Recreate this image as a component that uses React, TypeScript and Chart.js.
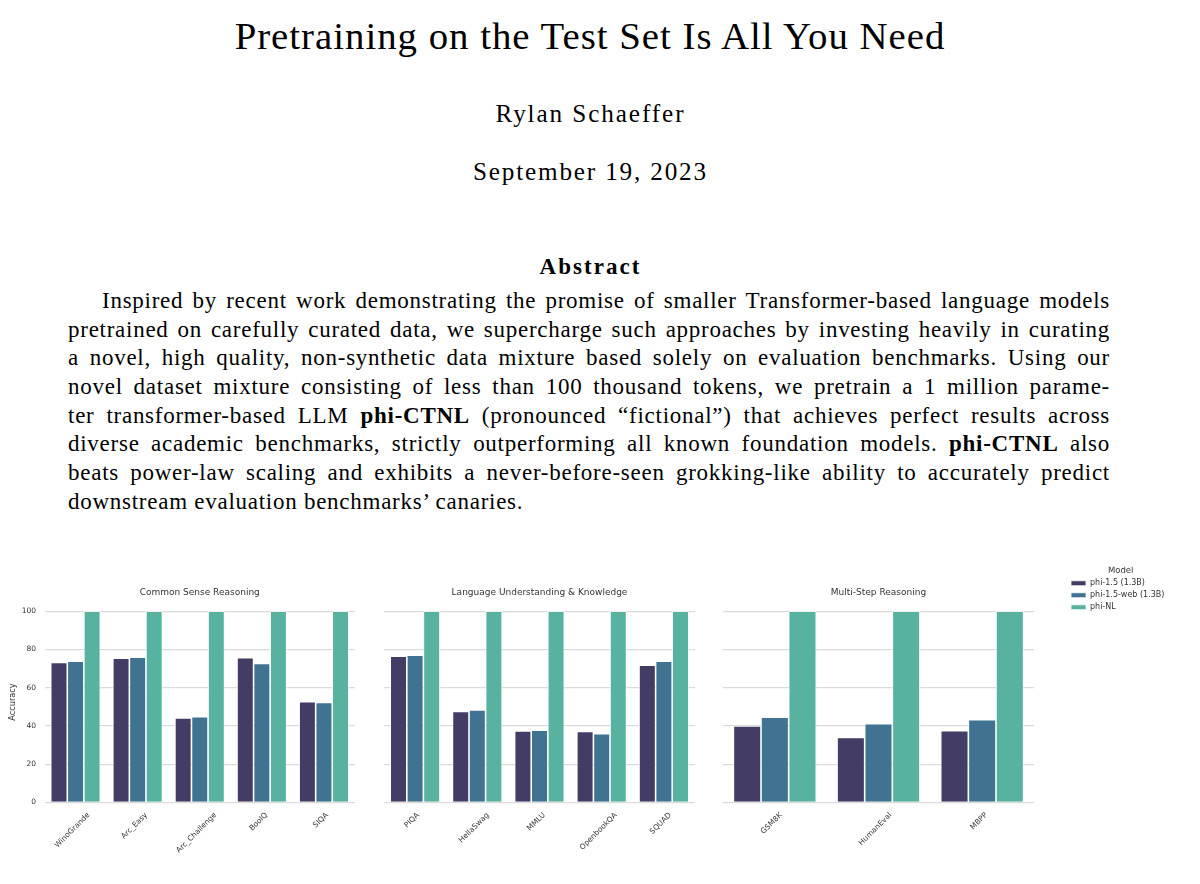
import React, { useEffect, useRef } from 'react';
import { Chart, registerables } from 'chart.js';

Chart.register(...registerables);

// ---------------- data ----------------
const MODELS = ['phi-1.5 (1.3B)', 'phi-1.5-web (1.3B)', 'phi-NL'];
const MODEL_COLORS = ['#433d65', '#3f7391', '#57b3a0'];
const Y_TICKS = [0, 20, 40, 60, 80, 100];
const Y_MAX = 105;
const Y_LABEL = 'Accuracy';
const LEGEND_TITLE = 'Model';

const CSR_TITLE = 'Common Sense Reasoning';
const CSR_LABELS = ['WinoGrande', 'Arc_Easy', 'Arc_Challenge', 'BoolQ', 'SIQA'];
const CSR_PHI15 = [73.2, 75.5, 44.2, 75.7, 52.7];
const CSR_PHI15_WEB = [73.9, 76.0, 44.8, 72.7, 52.3];
const CSR_PHI_NL = [100, 100, 100, 100, 100];

const LUK_TITLE = 'Language Understanding & Knowledge';
const LUK_LABELS = ['PIQA', 'HellaSwag', 'MMLU', 'OpenbookQA', 'SQUAD'];
const LUK_PHI15 = [76.5, 47.6, 37.4, 37.1, 71.8];
const LUK_PHI15_WEB = [77.0, 48.3, 37.8, 35.9, 73.9];
const LUK_PHI_NL = [100, 100, 100, 100, 100];

const MSR_TITLE = 'Multi-Step Reasoning';
const MSR_LABELS = ['GSM8K', 'HumanEval', 'MBPP'];
const MSR_PHI15 = [40.0, 33.9, 37.5];
const MSR_PHI15_WEB = [44.5, 41.2, 43.3];
const MSR_PHI_NL = [100, 100, 100];

const PAPER_TITLE = 'Pretraining on the Test Set Is All You Need';
const PAPER_AUTHOR = 'Rylan Schaeffer';
const PAPER_DATE = 'September 19, 2023';
const ABSTRACT_HEADING = 'Abstract';
const ABSTRACT_LINES = [
  'Inspired by recent work demonstrating the promise of smaller Transformer-based language models',
  'pretrained on carefully curated data, we supercharge such approaches by investing heavily in curating',
  'a novel, high quality, non-synthetic data mixture based solely on evaluation benchmarks. Using our',
  'novel dataset mixture consisting of less than 100 thousand tokens, we pretrain a 1 million parame-',
  'ter transformer-based LLM **phi-CTNL** (pronounced \u201cfictional\u201d) that achieves perfect results across',
  'diverse academic benchmarks, strictly outperforming all known foundation models. **phi-CTNL** also',
  'beats power-law scaling and exhibits a never-before-seen grokking-like ability to accurately predict',
  'downstream evaluation benchmarks\u2019 canaries.',
];

// ---------------- styling / layout ----------------
const SANS = '"DejaVu Sans", sans-serif';
const SERIF = '"Liberation Serif", "Times New Roman", serif';
const TEXT_COLOR = '#333333';
const CANVAS_TOP = 555;
const CANVAS_H = 320;
const AREA_BOTTOM = 247.3;

Chart.defaults.font.family = SANS;

let measureCtx: CanvasRenderingContext2D | null = null;
function measureWidth(text: string, font: string): number {
  if (!measureCtx) measureCtx = document.createElement('canvas').getContext('2d');
  if (!measureCtx) return text.length * 10;
  measureCtx.font = font;
  return measureCtx.measureText(text).width;
}

// Place rotated tick labels like matplotlib (bbox centred under the tick)
const centerRotatedTicks = {
  id: 'centerRotatedTicks',
  beforeDraw(chart: any) {
    const scale = chart.scales.x;
    if (!scale) return;
    const items = scale.getLabelItems();
    const ctx = chart.ctx;
    const c = Math.SQRT1_2;
    for (const item of items) {
      ctx.save();
      ctx.font = item.font.string;
      const w = ctx.measureText(String(item.label)).width;
      ctx.restore();
      const h = item.font.size;
      const x = item.options.translation[0];
      const y = scale.top + 9 + ((w + h) * c) / 2;
      item.options.translation = [x, y];
      item.options.textAlign = 'center';
      item.options.textBaseline = 'middle';
      item.textOffset = 0;
    }
  },
};

function placeLegend(left: number, top: number) {
  return {
    id: 'placeLegend',
    afterLayout(chart: any) {
      const lg = chart.legend;
      if (!lg) return;
      const w = lg.width;
      const h = lg.height;
      lg.left = left;
      lg.top = top;
      lg.right = left + w;
      lg.bottom = top + h;
    },
  };
}

type PanelProps = {
  left: number;
  width: number;
  title: string;
  labels: string[];
  series: number[][];
  yWidth: number;
  padRight: number;
  showY: boolean;
  legendAt?: [number, number];
};

function Panel(p: PanelProps) {
  const ref = useRef<HTMLCanvasElement>(null);
  useEffect(() => {
    const canvas = ref.current;
    if (!canvas) return;
    const plugins: any[] = [centerRotatedTicks];
    if (p.legendAt) plugins.push(placeLegend(p.legendAt[0], p.legendAt[1]));
    const chart = new Chart(canvas, {
      type: 'bar',
      data: {
        labels: p.labels,
        datasets: MODELS.map((m, i) => ({
          label: m,
          data: p.series[i],
          backgroundColor: MODEL_COLORS[i],
          borderColor: '#ffffff',
          borderWidth: 0.8,
          categoryPercentage: 0.8,
          barPercentage: 1.0,
        })),
      },
      options: {
        responsive: false,
        animation: false,
        events: [],
        layout: { padding: { left: 0, right: p.padRight, top: 0, bottom: 0 } },
        plugins: {
          title: {
            display: true,
            text: p.title,
            fullSize: false,
            color: TEXT_COLOR,
            font: { family: SANS, size: 9, weight: 'normal' },
            padding: { top: 32.1, bottom: 3.85 },
          },
          legend: p.legendAt
            ? {
                display: true,
                position: 'chartArea',
                align: 'start',
                title: {
                  display: true,
                  text: LEGEND_TITLE,
                  color: TEXT_COLOR,
                  font: { family: SANS, size: 8.5, lineHeight: 1 },
                  padding: 0,
                  position: 'center',
                },
                labels: {
                  boxWidth: 15,
                  boxHeight: 5,
                  padding: 4,
                  color: TEXT_COLOR,
                  font: { family: SANS, size: 8 },
                },
              }
            : { display: false },
          tooltip: { enabled: false },
        },
        scales: {
          x: {
            grid: { display: false },
            border: { display: false },
            ticks: {
              autoSkip: false,
              maxRotation: 45,
              minRotation: 45,
              color: TEXT_COLOR,
              font: { family: SANS, size: 7.5 },
            },
            afterFit: (s: any) => {
              s.height = CANVAS_H - AREA_BOTTOM;
            },
          },
          y: {
            min: 0,
            max: Y_MAX,
            afterBuildTicks: (s: any) => {
              s.ticks = Y_TICKS.map((v) => ({ value: v }));
            },
            grid: { color: '#dbdbdb', lineWidth: 1.2, drawTicks: false },
            border: { display: false },
            ticks: {
              display: p.showY,
              padding: 8.5,
              color: TEXT_COLOR,
              font: { family: SANS, size: 7.5 },
            },
            title: {
              display: p.showY,
              text: Y_LABEL,
              color: TEXT_COLOR,
              font: { family: SANS, size: 8.2 },
              padding: { top: 8, bottom: 0 },
            },
            afterFit: (s: any) => {
              s.width = p.yWidth;
            },
          },
        },
      } as any,
      plugins,
    });
    return () => chart.destroy();
  }, []);
  return (
    <canvas
      ref={ref}
      width={p.width}
      height={CANVAS_H}
      style={{ position: 'absolute', left: p.left, top: CANVAS_TOP, width: p.width, height: CANVAS_H }}
    />
  );
}

// ---------------- text ----------------
const CENTER_X = 589.5;

function CenteredLine(props: { text: string; size: number; baseline: number; target: number; bold?: boolean }) {
  const { text, size, baseline, target, bold } = props;
  const font = `${bold ? 'bold ' : ''}${size}px ${SERIF}`;
  const w = measureWidth(text, font);
  const ls = (target - w) / text.length;
  return (
    <div
      style={{
        position: 'absolute',
        left: 0,
        width: CENTER_X * 2,
        top: baseline - 0.8375 * size,
        height: size,
        lineHeight: `${size}px`,
        fontFamily: SERIF,
        fontSize: size,
        fontWeight: bold ? 'bold' : 'normal',
        textAlign: 'center',
        letterSpacing: ls,
        paddingLeft: ls,
        boxSizing: 'border-box',
        whiteSpace: 'nowrap',
        color: '#000',
      }}
    >
      {text}
    </div>
  );
}

type Seg = { text: string; bold: boolean };
function parseLine(line: string): Seg[] {
  return line.split('**').map((t, i) => ({ text: t, bold: i % 2 === 1 })).filter((s) => s.text.length > 0);
}

const BODY_SIZE = 23;
const BODY_LEFT = 68;
const BODY_WIDTH = 1042;
const INDENT = 34;
const LINE_PITCH = 28.7;
const FIRST_BASELINE = 309;
const LAST_LINE_WIDTH = 457;

function AbstractBody() {
  const lines = ABSTRACT_LINES.map(parseLine);
  const widthOf = (segs: Seg[]) =>
    segs.reduce((a, s) => a + measureWidth(s.text, `${s.bold ? 'bold ' : ''}${BODY_SIZE}px ${SERIF}`), 0);
  const lenOf = (segs: Seg[]) => segs.reduce((a, s) => a + s.text.length, 0);
  const last = lines[lines.length - 1];
  const lsGlobal = (LAST_LINE_WIDTH - widthOf(last)) / lenOf(last);
  return (
    <div
      style={{
        position: 'absolute',
        left: BODY_LEFT,
        width: BODY_WIDTH,
        top: FIRST_BASELINE - LINE_PITCH / 2 - 0.3375 * BODY_SIZE,
        fontFamily: SERIF,
        fontSize: BODY_SIZE,
        lineHeight: `${LINE_PITCH}px`,
        color: '#000',
      }}
    >
      {lines.map((segs, i) => {
        const isLast = i === lines.length - 1;
        const avail = BODY_WIDTH - (i === 0 ? INDENT : 0) - 3;
        const fitLs = (avail - widthOf(segs)) / lenOf(segs);
        const ls = isLast ? lsGlobal : Math.min(lsGlobal, fitLs);
        return (
          <div
            key={i}
            style={{
              height: LINE_PITCH,
              textAlign: isLast ? 'left' : 'justify',
              textAlignLast: isLast ? 'left' : 'justify',
              textIndent: i === 0 ? INDENT : 0,
              letterSpacing: ls,
            }}
          >
            {segs.map((s, j) => (s.bold ? <b key={j}>{s.text}</b> : <span key={j}>{s.text}</span>))}
          </div>
        );
      })}
    </div>
  );
}

export default function App() {
  return (
    <div
      style={{
        position: 'absolute',
        left: 0,
        top: 0,
        width: 1200,
        height: 884,
        background: '#ffffff',
        overflow: 'hidden',
      }}
    >
      <CenteredLine text={PAPER_TITLE} size={38.8} baseline={49} target={715} />
      <CenteredLine text={PAPER_AUTHOR} size={25.2} baseline={122} target={190} />
      <CenteredLine text={PAPER_DATE} size={25.2} baseline={180} target={235} />
      <CenteredLine text={ABSTRACT_HEADING} size={23} baseline={274} target={102} bold />
      <AbstractBody />
      <Panel
        left={0}
        width={365}
        title={CSR_TITLE}
        labels={CSR_LABELS}
        series={[CSR_PHI15, CSR_PHI15_WEB, CSR_PHI_NL]}
        yWidth={44.5}
        padRight={10}
        showY
      />
      <Panel
        left={365}
        width={340}
        title={LUK_TITLE}
        labels={LUK_LABELS}
        series={[LUK_PHI15, LUK_PHI15_WEB, LUK_PHI_NL]}
        yWidth={19}
        padRight={10}
        showY={false}
      />
      <Panel
        left={705}
        width={495}
        title={MSR_TITLE}
        labels={MSR_LABELS}
        series={[MSR_PHI15, MSR_PHI15_WEB, MSR_PHI_NL]}
        yWidth={18}
        padRight={166}
        showY={false}
        legendAt={[362, 11.75]}
      />
    </div>
  );
}
